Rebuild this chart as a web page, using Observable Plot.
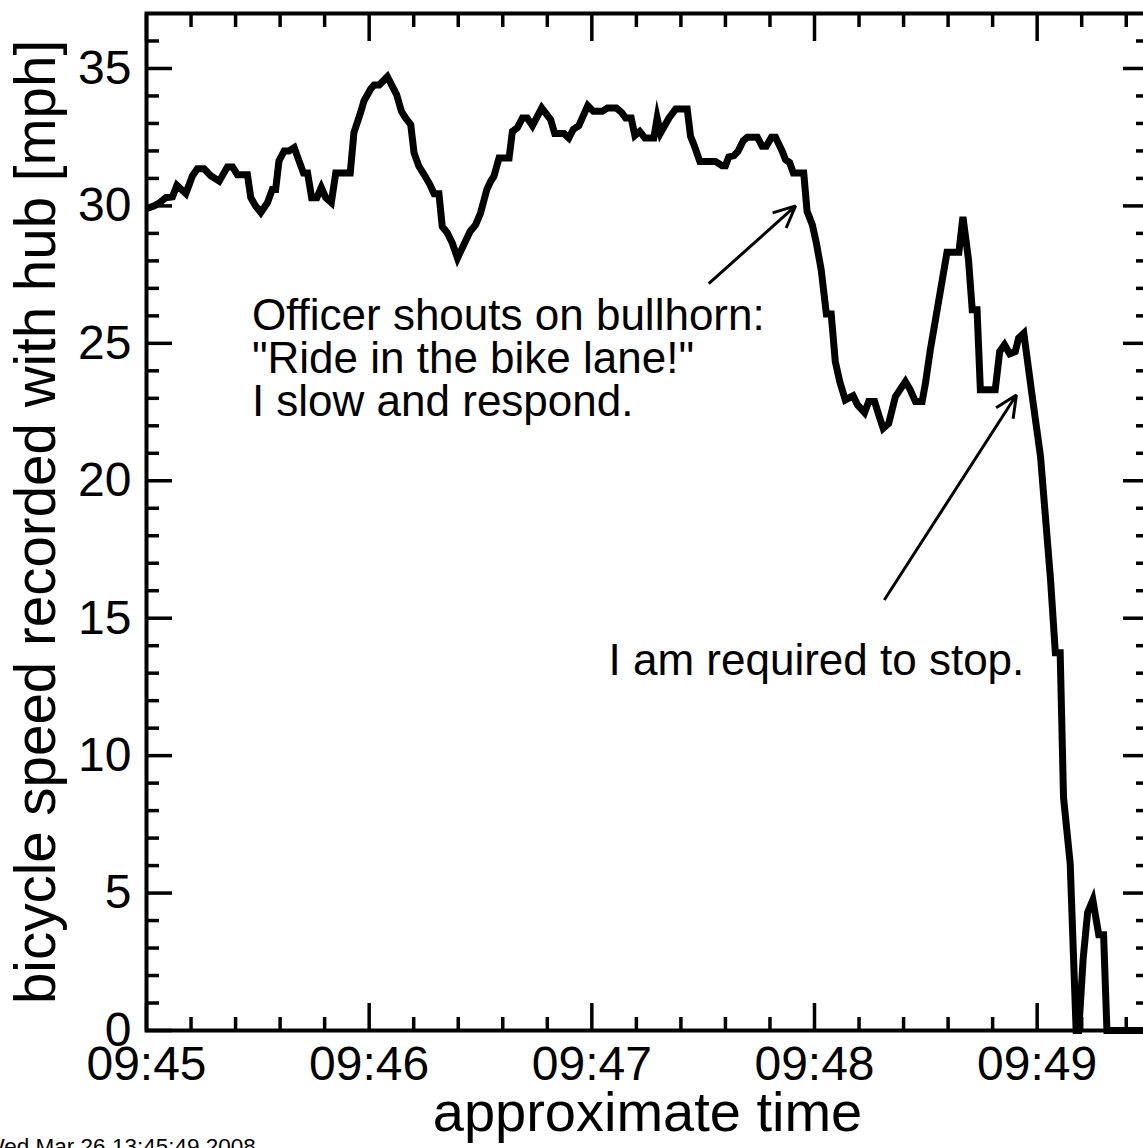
<!DOCTYPE html>
<html>
<head>
<meta charset="utf-8">
<script src="https://cdn.jsdelivr.net/npm/d3@7"></script>
<script src="https://cdn.jsdelivr.net/npm/@observablehq/plot@0.6"></script>
<style>
  html, body { margin: 0; padding: 0; background: #fff; overflow: hidden; width: 1143px; height: 1148px; }
  #chart svg { display: block; }
</style>
</head>
<body>
<div id="chart"></div>
<script>
// ---- data (seconds after 09:45:00, speed in mph) ----
const startTime = "2008-03-26T09:45:00Z";
const seconds = [0, 2.1, 3.4, 5.2, 7.0, 8.2, 10.6, 12.4, 13.7, 15.5, 17.3, 19.6, 21.8, 23.2, 24.5, 27.2, 28.1, 29.4, 30.8, 32.6,
  33.9, 34.8, 35.7, 37.1, 38.4, 39.8, 41.1, 42.3, 43.4, 44.5, 45.9, 47.1, 48.3, 49.8, 51.0, 54.9, 55.9, 57.7, 58.6, 60.4,
  61.3, 62.7, 64.9, 66.7, 67.4, 68.7, 69.8, 71.2, 72.1, 73.4, 74.8, 76.4, 77.5, 78.8, 79.7, 81.1, 82.4, 83.8, 85.5, 87.2,
  88.7, 90.0, 91.7, 92.7, 93.6, 95.0, 97.7, 98.6, 99.9, 101.3, 102.6, 104.0, 106.5, 108.9, 110.0, 112.5, 113.8, 115.0, 116.5, 118.9,
  120.4, 122.8, 124.2, 126.6, 128.0, 129.1, 130.6, 131.6, 132.9, 134.3, 136.7, 137.6, 138.5, 140.8, 142.6, 145.7, 146.6, 147.5, 149.1, 153.3,
  155.1, 156.0, 156.9, 158.3, 159.4, 160.8, 161.9, 164.6, 165.9, 167.0, 168.4, 169.5, 171.3, 172.2, 173.3, 174.3, 177.1, 178.0, 179.4, 180.5,
  181.8, 183.2, 184.5, 185.6, 186.8, 188.3, 190.4, 191.6, 193.5, 194.6, 196.2, 197.3, 198.5, 200.0, 201.8, 204.5, 205.8, 207.2, 209.0, 209.9,
  211.2, 212.6, 215.7, 218.9, 220.0, 221.5, 222.5, 223.8, 224.7, 228.7, 229.9, 231.2, 232.6, 234.1, 235.0, 236.4, 238.6, 240.9, 243.6, 244.9,
  246.2, 247.1, 248.9, 250.5, 251.2, 252.4, 253.6, 255.0, 256.6, 257.9, 258.8, 270];
const speedMph = [29.9, 30.0, 30.1, 30.3, 30.33, 30.75, 30.45, 31.1, 31.35, 31.35, 31.1, 30.9, 31.42, 31.42, 31.13, 31.13, 30.3, 30.0, 29.76, 30.12,
  30.6, 30.6, 31.64, 32.0, 32.0, 32.12, 31.64, 31.2, 31.2, 30.3, 30.3, 30.67, 30.3, 30.12, 31.2, 31.2, 32.67, 33.4, 33.82, 34.25,
  34.4, 34.4, 34.7, 34.23, 34.05, 33.44, 33.2, 32.96, 31.93, 31.44, 31.14, 30.77, 30.44, 30.44, 29.25, 29.01, 28.65, 28.1, 28.59, 29.07,
  29.32, 29.74, 30.59, 30.89, 31.07, 31.74, 31.74, 32.71, 32.84, 33.2, 33.2, 32.92, 33.56, 33.14, 32.63, 32.63, 32.47, 32.78, 32.92, 33.65,
  33.44, 33.44, 33.56, 33.56, 33.4, 33.2, 33.2, 32.56, 32.71, 32.47, 32.47, 33.2, 32.65, 33.2, 33.53, 33.53, 32.53, 32.23, 31.62, 31.62,
  31.46, 31.46, 31.78, 31.83, 31.99, 32.37, 32.5, 32.5, 32.17, 32.17, 32.5, 32.5, 31.99, 31.68, 31.58, 31.2, 31.2, 29.8, 29.32, 28.65,
  27.68, 26.07, 26.07, 24.34, 23.61, 22.94, 23.09, 22.76, 22.48, 22.88, 22.88, 22.4, 21.91, 22.09, 23.06, 23.61, 23.31, 22.88, 22.88, 23.55,
  24.76, 25.86, 28.31, 28.31, 29.6, 28.04, 26.22, 26.22, 23.31, 23.31, 24.7, 24.95, 24.62, 24.7, 25.19, 25.37, 23.14, 20.89, 16.41, 13.74,
  13.74, 8.48, 6.07, 0, 0, 2.62, 4.3, 4.75, 3.48, 3.48, 0, 0];

// ---- axes ----
const xDomainSeconds = [0, 270];
const yDomain = [0, 37];
const xMajorSeconds = [0, 60, 120, 180, 240];
const xTickLabels = ["09:45", "09:46", "09:47", "09:48", "09:49"];
const xMinorSeconds = [12, 24, 36, 48, 72, 84, 96, 108, 132, 144, 156, 168, 192, 204, 216, 228, 252, 264];
const yMajor = [0, 5, 10, 15, 20, 25, 30, 35];
const yMinor = [1, 2, 3, 4, 6, 7, 8, 9, 11, 12, 13, 14, 16, 17, 18, 19, 21, 22, 23, 24, 26, 27, 28, 29, 31, 32, 33, 34, 36];
const xTitle = "approximate time";
const yTitle = "bicycle speed recorded with hub [mph]";
const stampText = "Wed Mar 26 13:45:49 2008";

// ---- annotations ----
const noteText = ["Officer shouts on bullhorn:\n\"Ride in the bike lane!\"\nI slow and respond.", "I am required to stop."];
const noteSec = [28.4, 124.5];
const noteMph = [22.36, 12.93];
const arrowFromSec = [151.5, 198.8];
const arrowFromMph = [27.17, 15.66];
const arrowToSec = [174.9, 234.4];
const arrowToMph = [30.0, 23.12];

// ---- build ----
const t0 = new Date(startTime).getTime();
const toDate = s => new Date(t0 + s * 1000);
const series = seconds.map((s, i) => ({time: toDate(s), mph: speedMph[i]}));
const notes = noteText.map((t, i) => ({text: t, time: toDate(noteSec[i]), mph: noteMph[i]}));
const arrows = arrowFromSec.map((s, i) => ({
  t1: toDate(s), v1: arrowFromMph[i], t2: toDate(arrowToSec[i]), v2: arrowToMph[i]
}));
const labelFor = d => xTickLabels[xMajorSeconds.indexOf(Math.round((d - t0) / 1000))];
const blank = () => "";

const TICK_W = 3.5;
const chart = Plot.plot({
  width: 1150,
  height: 1160,
  marginLeft: 146,
  marginRight: 2,
  marginTop: 13,
  marginBottom: 130,
  style: {fontFamily: "'Liberation Sans', Arial, Helvetica, sans-serif", maxWidth: "none", background: "white", color: "black"},
  x: {type: "utc", domain: xDomainSeconds.map(toDate), axis: null},
  y: {domain: yDomain, axis: null},
  marks: [
    // inward ticks: bottom & top
    Plot.axisX(xMinorSeconds.map(toDate), {anchor: "bottom", tickSize: -13, strokeWidth: TICK_W, tickFormat: blank, label: null}),
    Plot.axisX(xMajorSeconds.map(toDate), {anchor: "bottom", tickSize: -27, strokeWidth: TICK_W, tickFormat: blank, label: null}),
    Plot.axisX(xMinorSeconds.map(toDate), {anchor: "top", tickSize: -13, strokeWidth: TICK_W, tickFormat: blank, label: null}),
    Plot.axisX(xMajorSeconds.map(toDate), {anchor: "top", tickSize: -27, strokeWidth: TICK_W, tickFormat: blank, label: null}),
    // inward ticks: left & right
    Plot.axisY(yMinor, {anchor: "left", tickSize: -13, strokeWidth: TICK_W, tickFormat: blank, label: null}),
    Plot.axisY(yMajor, {anchor: "left", tickSize: -26, strokeWidth: TICK_W, tickFormat: blank, label: null}),
    Plot.axisY(yMinor, {anchor: "right", tickSize: -13, strokeWidth: TICK_W, tickFormat: blank, label: null}),
    Plot.axisY(yMajor, {anchor: "right", tickSize: -26, strokeWidth: TICK_W, tickFormat: blank, label: null}),
    // tick labels
    Plot.axisX(xMajorSeconds.map(toDate), {anchor: "bottom", tickSize: 0, tickPadding: 15, fontSize: 48, tickFormat: labelFor, label: null}),
    Plot.axisY(yMajor, {anchor: "left", tickSize: 0, tickPadding: 15, fontSize: 48, label: null}),
    // frame
    Plot.frame({stroke: "black", strokeWidth: 4}),
    // data line
    Plot.line(series, {x: "time", y: "mph", stroke: "black", strokeWidth: 7,
      strokeLinejoin: "miter", strokeMiterlimit: 8, strokeLinecap: "butt"}),
    // annotations
    Plot.arrow(arrows, {x1: "t1", y1: "v1", x2: "t2", y2: "v2", stroke: "black", strokeWidth: 3,
      headLength: 12, headAngle: 50, strokeLinecap: "butt"}),
    Plot.text(notes, {x: "time", y: "mph", text: "text", textAnchor: "start", lineAnchor: "bottom",
      lineHeight: 0.977, fontSize: 44, fill: "black"}),
    // axis titles
    Plot.text([xTitle], {frameAnchor: "bottom", dy: 100, textAnchor: "middle", lineAnchor: "bottom", fontSize: 56, fill: "black"}),
    Plot.text([yTitle], {frameAnchor: "left", dx: -92, rotate: -90, textAnchor: "middle", lineAnchor: "bottom", fontSize: 56.5, fill: "black"}),
    Plot.text([stampText], {frameAnchor: "bottom-left", dx: -163, dy: 123, textAnchor: "start", lineAnchor: "bottom", fontSize: 22.5, fill: "black"})
  ]
});
document.getElementById("chart").appendChild(chart);
</script>
</body>
</html>
